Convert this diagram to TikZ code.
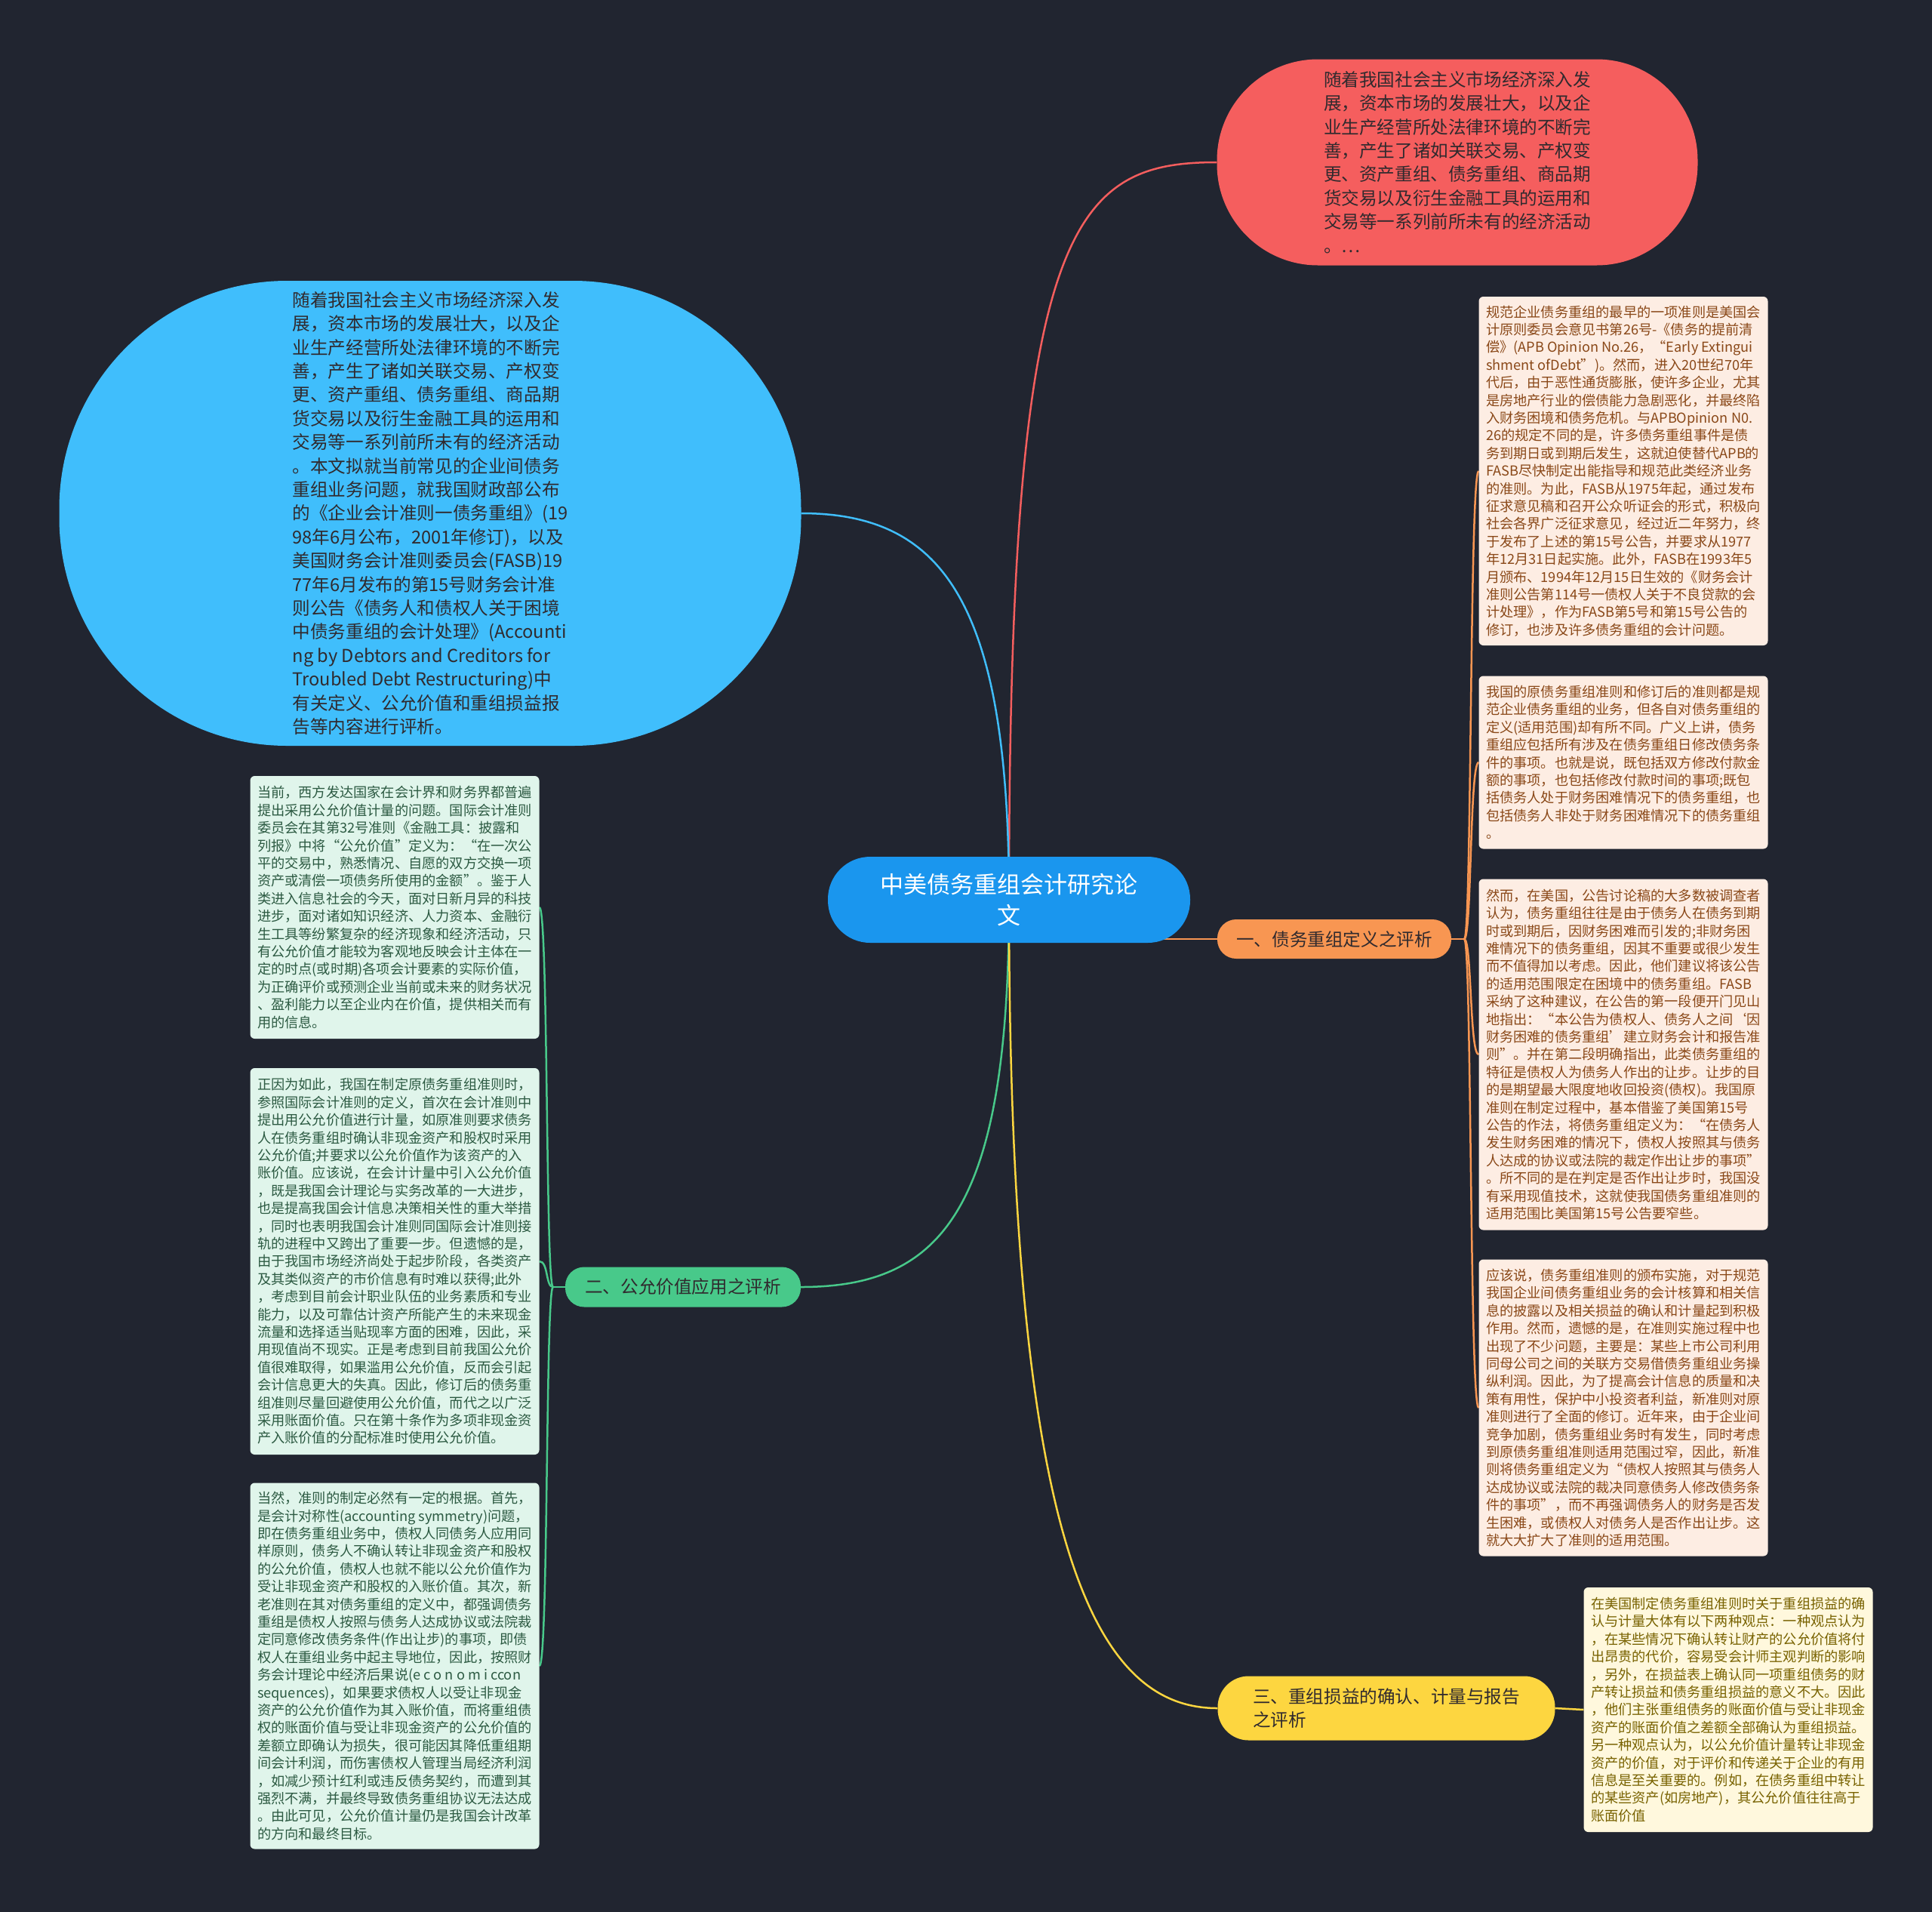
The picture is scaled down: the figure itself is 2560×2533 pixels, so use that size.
\documentclass[tikz,border=0pt]{standalone}
\usepackage{fontspec}
\setmainfont{Noto Sans CJK SC}
\usepackage{xcolor}
\usepackage{tikz}
\usetikzlibrary{calc}
\definecolor{bgcol}{RGB}{33,37,48}
\definecolor{centc}{RGB}{26,150,238}
\definecolor{redc}{RGB}{245,94,94}
\definecolor{bluec}{RGB}{64,190,252}
\definecolor{orc}{RGB}{248,150,82}
\definecolor{grc}{RGB}{72,201,138}
\definecolor{yelc}{RGB}{253,214,64}
\definecolor{peach}{RGB}{253,237,227}
\definecolor{brownt}{RGB}{138,72,24}
\definecolor{mint}{RGB}{224,245,235}
\definecolor{greent}{RGB}{44,90,66}
\definecolor{cream}{RGB}{255,248,221}
\definecolor{olivet}{RGB}{120,98,0}
\definecolor{darkt}{RGB}{48,42,46}
\pgfdeclarelayer{bgl}\pgfdeclarelayer{edges}\pgfsetlayers{bgl,edges,main}

\begin{document}
\begin{tikzpicture}[x=1pt,y=-1pt,
  every node/.style={inner sep=0pt,align=left},
  idea/.style={rectangle,text=darkt,font=\fontsize{23.6}{31.4}\selectfont},
  tbox/.style={rectangle,rounded corners=6pt,minimum width=383pt,font=\fontsize{18.2}{23.4}\selectfont},
  rbox/.style={tbox,fill=peach,text=brownt},
  lbox/.style={tbox,fill=mint,text=greent},
  ybox/.style={tbox,fill=cream,text=olivet},
  link/.style={line width=2.5pt}]
\useasboundingbox (0,0) rectangle (2560,2533);
\begin{pgfonlayer}{bgl}
\fill[bgcol] (0,0) rectangle (2560,2533);
\end{pgfonlayer}

\node[rectangle,fill=centc,text=white,align=center,minimum width=480pt,minimum height=114pt,rounded corners=56pt,font=\fontsize{31}{41}\selectfont] (c) at (1337,1192) {中美债务重组会计研究论\\文};

\node[idea,fill=redc,minimum width=637pt,minimum height=273pt,rounded corners=134pt] (intro) at (1931,215) {随着我国社会主义市场经济深入发\\展，资本市场的发展壮大，以及企\\业生产经营所处法律环境的不断完\\善，产生了诸如关联交易、产权变\\更、资产重组、债务重组、商品期\\货交易以及衍生金融工具的运用和\\交易等一系列前所未有的经济活动\\。…};

\node[idea,fill=bluec,minimum width=983pt,minimum height=616pt,rounded corners=302pt] (abs) at (570,680) {随着我国社会主义市场经济深入发\\展，资本市场的发展壮大，以及企\\业生产经营所处法律环境的不断完\\善，产生了诸如关联交易、产权变\\更、资产重组、债务重组、商品期\\货交易以及衍生金融工具的运用和\\交易等一系列前所未有的经济活动\\。本文拟就当前常见的企业间债务\\重组业务问题，就我国财政部公布\\的《企业会计准则一债务重组》(19\\98年6月公布，2001年修订)，以及\\美国财务会计准则委员会(FASB)19\\77年6月发布的第15号财务会计准\\则公告《债务人和债权人关于困境\\中债务重组的会计处理》(Accounti\\ng by Debtors and Creditors for\\Troubled Debt Restructuring)中\\有关定义、公允价值和重组损益报\\告等内容进行评析。};

\node[idea,fill=orc,minimum width=310pt,minimum height=52pt,rounded corners=25pt] (b1) at (1768,1244) {一、债务重组定义之评析};
\node[idea,fill=grc,minimum width=312pt,minimum height=53pt,rounded corners=25pt] (b2) at (905,1705) {二、公允价值应用之评析};
\node[idea,fill=yelc,minimum width=447pt,minimum height=85pt,rounded corners=41pt] (b3) at (1837,2263) {三、重组损益的确认、计量与报告\\之评析};

\node[rbox,minimum height=462pt] (r1) at (2151,624) {规范企业债务重组的最早的一项准则是美国会\\计原则委员会意见书第26号-《债务的提前清\\偿》(APB Opinion No.26，“Early Extingui\\shment ofDebt”)。然而，进入20世纪70年\\代后，由于恶性通货膨胀，使许多企业，尤其\\是房地产行业的偿债能力急剧恶化，并最终陷\\入财务困境和债务危机。与APBOpinion N0.\\26的规定不同的是，许多债务重组事件是债\\务到期日或到期后发生，这就迫使替代APB的\\FASB尽快制定出能指导和规范此类经济业务\\的准则。为此，FASB从1975年起，通过发布\\征求意见稿和召开公众听证会的形式，积极向\\社会各界广泛征求意见，经过近二年努力，终\\于发布了上述的第15号公告，并要求从1977\\年12月31日起实施。此外，FASB在1993年5\\月颁布、1994年12月15日生效的《财务会计\\准则公告第114号一债权人关于不良贷款的会\\计处理》，作为FASB第5号和第15号公告的\\修订，也涉及许多债务重组的会计问题。};
\node[rbox,minimum height=229pt] (r2) at (2151,1010) {我国的原债务重组准则和修订后的准则都是规\\范企业债务重组的业务，但各自对债务重组的\\定义(适用范围)却有所不同。广义上讲，债务\\重组应包括所有涉及在债务重组日修改债务条\\件的事项。也就是说，既包括双方修改付款金\\额的事项，也包括修改付款时间的事项;既包\\括债务人处于财务困难情况下的债务重组，也\\包括债务人非处于财务困难情况下的债务重组\\。};
\node[rbox,minimum height=465pt] (r3) at (2151,1397) {然而，在美国，公告讨论稿的大多数被调查者\\认为，债务重组往往是由于债务人在债务到期\\时或到期后，因财务困难而引发的;非财务困\\难情况下的债务重组，因其不重要或很少发生\\而不值得加以考虑。因此，他们建议将该公告\\的适用范围限定在困境中的债务重组。FASB\\采纳了这种建议，在公告的第一段便开门见山\\地指出：“本公告为债权人、债务人之间‘因\\财务困难的债务重组’建立财务会计和报告准\\则”。并在第二段明确指出，此类债务重组的\\特征是债权人为债务人作出的让步。让步的目\\的是期望最大限度地收回投资(债权)。我国原\\准则在制定过程中，基本借鉴了美国第15号\\公告的作法，将债务重组定义为：“在债务人\\发生财务困难的情况下，债权人按照其与债务\\人达成的协议或法院的裁定作出让步的事项”\\。所不同的是在判定是否作出让步时，我国没\\有采用现值技术，这就使我国债务重组准则的\\适用范围比美国第15号公告要窄些。};
\node[rbox,minimum height=393pt] (r4) at (2151,1865) {应该说，债务重组准则的颁布实施，对于规范\\我国企业间债务重组业务的会计核算和相关信\\息的披露以及相关损益的确认和计量起到积极\\作用。然而，遗憾的是，在准则实施过程中也\\出现了不少问题，主要是：某些上市公司利用\\同母公司之间的关联方交易借债务重组业务操\\纵利润。因此，为了提高会计信息的质量和决\\策有用性，保护中小投资者利益，新准则对原\\准则进行了全面的修订。近年来，由于企业间\\竞争加剧，债务重组业务时有发生，同时考虑\\到原债务重组准则适用范围过窄，因此，新准\\则将债务重组定义为“债权人按照其与债务人\\达成协议或法院的裁决同意债务人修改债务条\\件的事项”，而不再强调债务人的财务是否发\\生困难，或债权人对债务人是否作出让步。这\\就大大扩大了准则的适用范围。};
\node[ybox,minimum height=324pt] (r5) at (2290,2265) {在美国制定债务重组准则时关于重组损益的确\\认与计量大体有以下两种观点：一种观点认为\\，在某些情况下确认转让财产的公允价值将付\\出昂贵的代价，容易受会计师主观判断的影响\\，另外，在损益表上确认同一项重组债务的财\\产转让损益和债务重组损益的意义不大。因此\\，他们主张重组债务的账面价值与受让非现金\\资产的账面价值之差额全部确认为重组损益。\\另一种观点认为，以公允价值计量转让非现金\\资产的价值，对于评价和传递关于企业的有用\\信息是至关重要的。例如，在债务重组中转让\\的某些资产(如房地产)，其公允价值往往高于\\账面价值};

\node[lbox,minimum height=348pt] (l1) at (523,1202) {当前，西方发达国家在会计界和财务界都普遍\\提出采用公允价值计量的问题。国际会计准则\\委员会在其第32号准则《金融工具：披露和\\列报》中将“公允价值”定义为：“在一次公\\平的交易中，熟悉情况、自愿的双方交换一项\\资产或清偿一项债务所使用的金额”。鉴于人\\类进入信息社会的今天，面对日新月异的科技\\进步，面对诸如知识经济、人力资本、金融衍\\生工具等纷繁复杂的经济现象和经济活动，只\\有公允价值才能较为客观地反映会计主体在一\\定的时点(或时期)各项会计要素的实际价值，\\为正确评价或预测企业当前或未来的财务状况\\、盈利能力以至企业内在价值，提供相关而有\\用的信息。};
\node[lbox,minimum height=512pt] (l2) at (523,1671) {正因为如此，我国在制定原债务重组准则时，\\参照国际会计准则的定义，首次在会计准则中\\提出用公允价值进行计量，如原准则要求债务\\人在债务重组时确认非现金资产和股权时采用\\公允价值;并要求以公允价值作为该资产的入\\账价值。应该说，在会计计量中引入公允价值\\，既是我国会计理论与实务改革的一大进步，\\也是提高我国会计信息决策相关性的重大举措\\，同时也表明我国会计准则同国际会计准则接\\轨的进程中又跨出了重要一步。但遗憾的是，\\由于我国市场经济尚处于起步阶段，各类资产\\及其类似资产的市价信息有时难以获得;此外\\，考虑到目前会计职业队伍的业务素质和专业\\能力，以及可靠估计资产所能产生的未来现金\\流量和选择适当贴现率方面的困难，因此，采\\用现值尚不现实。正是考虑到目前我国公允价\\值很难取得，如果滥用公允价值，反而会引起\\会计信息更大的失真。因此，修订后的债务重\\组准则尽量回避使用公允价值，而代之以广泛\\采用账面价值。只在第十条作为多项非现金资\\产入账价值的分配标准时使用公允价值。};
\node[lbox,minimum height=485pt] (l3) at (523,2207) {当然，准则的制定必然有一定的根据。首先，\\是会计对称性(accounting symmetry)问题，\\即在债务重组业务中，债权人同债务人应用同\\样原则，债务人不确认转让非现金资产和股权\\的公允价值，债权人也就不能以公允价值作为\\受让非现金资产和股权的入账价值。其次，新\\老准则在其对债务重组的定义中，都强调债务\\重组是债权人按照与债务人达成协议或法院裁\\定同意修改债务条件(作出让步)的事项，即债\\权人在重组业务中起主导地位，因此，按照财\\务会计理论中经济后果说(e c o n o m i ccon\\sequences)，如果要求债权人以受让非现金\\资产的公允价值作为其入账价值，而将重组债\\权的账面价值与受让非现金资产的公允价值的\\差额立即确认为损失，很可能因其降低重组期\\间会计利润，而伤害债权人管理当局经济利润\\，如减少预计红利或违反债务契约，而遭到其\\强烈不满，并最终导致债务重组协议无法达成\\。由此可见，公允价值计量仍是我国会计改革\\的方向和最终目标。};

\begin{pgfonlayer}{edges}
\draw[link,redc] (c.center) .. controls +(0,-892) and +(-193,0) .. (intro.west);
\draw[link,bluec] (c.center) .. controls +(0,-392) and +(189,0) .. (abs.east);
\draw[link,orc] (c.center |- b1.west) -- (b1.west);
\draw[link,grc] (c.center) .. controls +(0,408) and +(189,0) .. (b2.east);
\draw[link,yelc] (c.center) .. controls +(0,858) and +(-163,0) .. (b3.west);
\coordinate (s1) at ($(b1.east)+(17,0)$);
\draw[link,orc] (b1.east) -- (s1);
\foreach \n in {r1,r2,r3,r4}
  \draw[link,orc] (s1) .. controls +(10,0) and +(-12,0) .. (\n.west);
\coordinate (s2) at ($(b2.west)+(-16,0)$);
\draw[link,grc] (b2.west) -- (s2);
\foreach \n in {l1,l2,l3}
  \draw[link,grc] (s2) .. controls +(-10,0) and +(12,0) .. (\n.east);
\draw[link,yelc] (b3.east) -- (r5.west);
\end{pgfonlayer}
\end{tikzpicture}
\end{document}
